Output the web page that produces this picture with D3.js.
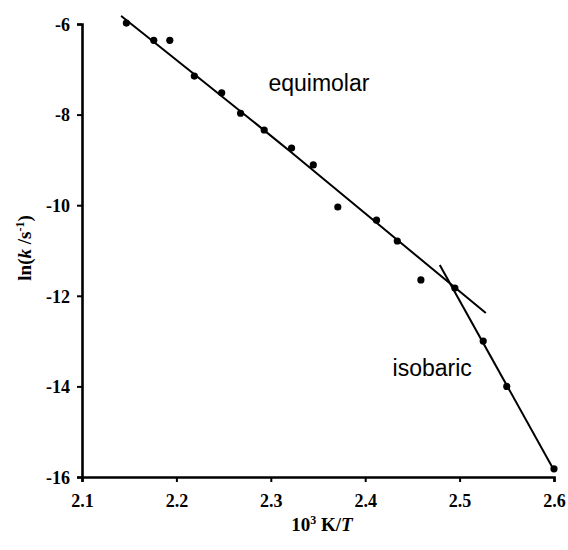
<!DOCTYPE html>
<html><head><meta charset="utf-8">
<script src="https://cdn.jsdelivr.net/npm/d3@7"></script>
<style>body{margin:0;background:#fff}svg{display:block}</style>
</head><body>
<svg id="chart" width="568" height="550"></svg>
<script>
// Data
const pointX = [2.147, 2.176, 2.193, 2.219, 2.248, 2.268, 2.293, 2.322, 2.345, 2.371, 2.412, 2.434, 2.459, 2.495, 2.525, 2.550, 2.600];
const pointY = [-5.98, -6.36, -6.36, -7.15, -7.52, -7.97, -8.34, -8.74, -9.11, -10.04, -10.33, -10.79, -11.65, -11.83, -13.00, -14.00, -15.82];
const equimolarFitX = [2.1414, 2.3197, 2.5278];
const equimolarFitY = [-5.82, -8.80, -12.38];
const isobaricFitX = [2.479, 2.600];
const isobaricFitY = [-11.32, -15.85];
const xTicks = [2.1, 2.2, 2.3, 2.4, 2.5, 2.6];
const yTicks = [-6, -8, -10, -12, -14, -16];
const labels = [{text: "equimolar", x: 2.351, y: -7.48}, {text: "isobaric", x: 2.471, y: -13.77}];

const svg = d3.select("#chart");
const x = d3.scaleLinear().domain([2.1, 2.6]).range([82, 554]);
const y = d3.scaleLinear().domain([-16, -6]).range([477, 24]);

const serif = "'Liberation Serif', 'Times New Roman', serif";

// Axes
const xAxis = svg.append("g").attr("transform", `translate(0,${y(-16)})`)
  .call(d3.axisBottom(x).tickValues(xTicks).tickFormat(d3.format(".1f")).tickSize(5).tickPadding(12));
const yAxis = svg.append("g").attr("transform", `translate(${x(2.1)},0)`)
  .call(d3.axisLeft(y).tickValues(yTicks).tickFormat(d => d3.format("d")(d).replace("−", "-")).tickSize(5).tickPadding(7));
[xAxis, yAxis].forEach(g => {
  g.select(".domain").attr("stroke", "#000").attr("stroke-width", 2.6);
  g.selectAll(".tick line").attr("stroke", "#000").attr("stroke-width", 2);
  g.selectAll(".tick text").attr("fill", "#000").style("font-family", serif)
    .style("font-weight", "bold").style("font-size", "18px");
});
yAxis.selectAll(".tick text").attr("dy", "0.35em");

// Fit lines
const line = d3.line().x(d => x(d[0])).y(d => y(d[1]));
svg.append("path").datum(equimolarFitX.map((v, i) => [v, equimolarFitY[i]]))
  .attr("d", line.curve(d3.curveNatural)).attr("fill", "none").attr("stroke", "#000").attr("stroke-width", 2);
svg.append("path").datum(isobaricFitX.map((v, i) => [v, isobaricFitY[i]]))
  .attr("d", d3.line().x(d => x(d[0])).y(d => y(d[1]))).attr("fill", "none").attr("stroke", "#000").attr("stroke-width", 2);

// Points
svg.append("g").selectAll("circle").data(pointX.map((v, i) => [v, pointY[i]])).join("circle")
  .attr("cx", d => x(d[0])).attr("cy", d => y(d[1])).attr("r", 3.6).attr("fill", "#000");

// Labels
svg.append("g").selectAll("text").data(labels).join("text")
  .attr("x", d => x(d.x)).attr("y", d => y(d.y)).attr("text-anchor", "middle")
  .style("font-family", "'Liberation Sans', Arial, sans-serif").style("font-size", "23px").attr("fill", "#000")
  .text(d => d.text);

// Axis titles
const xt = svg.append("text").attr("x", 322).attr("y", 531).attr("text-anchor", "middle")
  .style("font-family", serif).style("font-weight", "bold").style("font-size", "19px").attr("fill", "#000");
xt.append("tspan").text("10");
xt.append("tspan").attr("dy", -7).style("font-size", "12px").text("3");
xt.append("tspan").attr("dy", 7).text(" K/");
xt.append("tspan").style("font-style", "italic").text("T");

const yt = svg.append("text").attr("transform", "translate(31,248) rotate(-90)").attr("text-anchor", "middle")
  .style("font-family", serif).style("font-weight", "bold").style("font-size", "19px").attr("fill", "#000");
yt.append("tspan").text("ln(");
yt.append("tspan").style("font-style", "italic").text("k");
yt.append("tspan").text(" /s");
yt.append("tspan").attr("dy", -7).style("font-size", "12px").text("-1");
yt.append("tspan").attr("dy", 7).text(")");
</script>
</body></html>
